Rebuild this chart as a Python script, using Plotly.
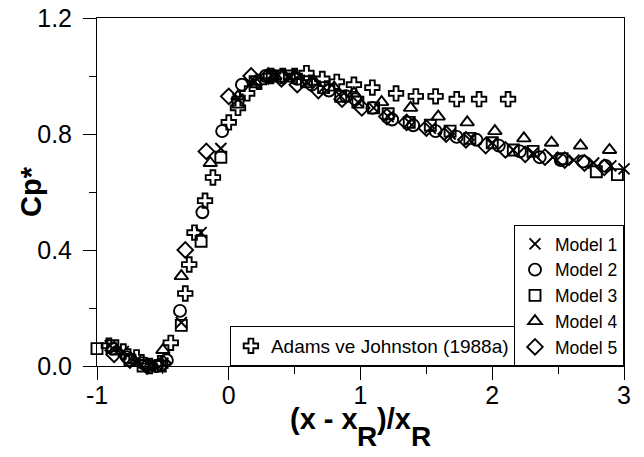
import plotly.graph_objects as go

# ---- data ----
adams_x = [-0.91, -0.80, -0.70, -0.60, -0.52, -0.44, -0.33, -0.30, -0.26, -0.18, -0.12,
           0.00, 0.07, 0.14, 0.23, 0.32, 0.41, 0.50, 0.59, 0.71, 0.82, 0.95, 1.09,
           1.27, 1.42, 1.57, 1.73, 1.90, 2.12]
adams_y = [0.07, 0.05, 0.03, 0.00, 0.01, 0.08, 0.25, 0.35, 0.46, 0.57, 0.65,
           0.84, 0.89, 0.94, 0.98, 1.00, 1.00, 1.00, 1.01, 0.99, 0.98, 0.97, 0.96,
           0.94, 0.93, 0.93, 0.92, 0.92, 0.92]

m1_x = [-0.90, -0.80, -0.70, -0.60, -0.50, -0.36, -0.21, -0.06, 0.07, 0.20, 0.33, 0.46,
        0.59, 0.72, 0.85, 0.98, 1.10, 1.21, 1.37, 1.53, 1.68, 1.83, 2.00, 2.16, 2.31,
        2.46, 2.62, 2.77, 2.90, 3.00]
m1_y = [0.07, 0.05, 0.02, 0.00, 0.01, 0.15, 0.46, 0.75, 0.92, 0.98, 1.00, 1.00,
        0.98, 0.96, 0.93, 0.91, 0.89, 0.86, 0.84, 0.82, 0.80, 0.78, 0.77, 0.745, 0.735,
        0.72, 0.71, 0.70, 0.69, 0.68]

m2_x = [-0.88, -0.77, -0.65, -0.55, -0.47, -0.37, -0.20, -0.05, 0.10, 0.28, 0.40, 0.52,
        0.63, 0.76, 0.89, 0.96, 1.09, 1.24, 1.40, 1.57, 1.73, 1.88, 2.05, 2.21, 2.36,
        2.52, 2.69, 2.86]
m2_y = [0.06, 0.03, 0.01, 0.00, 0.02, 0.19, 0.53, 0.81, 0.97, 1.00, 1.00, 0.99,
        0.97, 0.95, 0.93, 0.92, 0.89, 0.85, 0.83, 0.81, 0.79, 0.78, 0.76, 0.74, 0.72,
        0.71, 0.705, 0.69]

m3_x = [-1.00, -0.88, -0.75, -0.65, -0.52, -0.36, -0.21, -0.06, 0.07, 0.20, 0.33, 0.46,
        0.59, 0.72, 0.85, 0.98, 1.10, 1.21, 1.37, 1.53, 1.68, 1.83, 2.00, 2.16, 2.31,
        2.53, 2.79, 2.95]
m3_y = [0.06, 0.07, 0.02, 0.00, 0.00, 0.14, 0.43, 0.72, 0.91, 0.98, 1.00, 1.00,
        0.98, 0.96, 0.93, 0.91, 0.89, 0.87, 0.84, 0.83, 0.81, 0.785, 0.77, 0.745, 0.74,
        0.715, 0.67, 0.66]

m4_x = [-0.85, -0.72, -0.60, -0.50, -0.36, -0.14, 0.07, 0.20, 0.35, 0.50, 0.65, 0.80,
        0.95, 1.16, 1.38, 1.59, 1.81, 2.02, 2.24, 2.45, 2.67, 2.89]
m4_y = [0.05, 0.02, 0.00, 0.055, 0.31, 0.70, 0.93, 0.98, 1.00, 1.00, 0.98, 0.96,
        0.94, 0.91, 0.89, 0.86, 0.84, 0.81, 0.785, 0.77, 0.76, 0.745]

m5_x = [-0.87, -0.75, -0.62, -0.50, -0.33, -0.17, 0.00, 0.17, 0.30, 0.40, 0.52, 0.68,
        0.86, 1.01, 1.20, 1.35, 1.50, 1.65, 1.80, 1.95, 2.10, 2.25, 2.40, 2.55, 2.70, 2.85]
m5_y = [0.04, 0.02, 0.00, 0.01, 0.40, 0.74, 0.93, 1.00, 1.00, 0.99, 0.97, 0.95,
        0.92, 0.89, 0.86, 0.84, 0.82, 0.80, 0.78, 0.76, 0.745, 0.73, 0.72, 0.71, 0.70, 0.685]

x_ticks = [-1, 0, 1, 2, 3]
y_ticks = [0.0, 0.4, 0.8, 1.2]
y_ticklabels = ["0.0", "0.4", "0.8", "1.2"]

# x-axis title pieces: main text and full-size lowered subscript "R"
x_title_parts = ["(x - x", "R", ")/x", "R"]

FONT = "Liberation Sans"

fig = go.Figure()

def add(xs, ys, name, symbol, legend, size=12):
    fig.add_trace(go.Scatter(
        x=xs, y=ys, mode="markers", name=name, legend=legend,
        cliponaxis=False,
        marker=dict(symbol=symbol, size=size, color="black",
                    line=dict(color="black", width=1.9)),
    ))

add(m1_x, m1_y, "Model 1", "x-thin-open", "legend2", 11)
add(m2_x, m2_y, "Model 2", "circle-open", "legend2", 12)
add(m3_x, m3_y, "Model 3", "square-open", "legend2", 11)
add(m4_x, m4_y, "Model 4", "triangle-up-open", "legend2", 12)
add(m5_x, m5_y, "Model 5", "diamond-open", "legend2", 12)
add(adams_x, adams_y, "Adams ve Johnston (1988a)", "cross-open", "legend", 12)

# x-title layout (pixel offsets from the plot's left edge, bold Arial-metric widths)
MAIN_SIZE, SUB_SIZE = 29, 28
W = {"(": .333, "x": .556, " ": .278, "-": .333, ")": .333, "/": .278, "R": .722}
def width(s, size):
    return sum(W[c] for c in s) * size

annots = []
total = sum(width(p, SUB_SIZE if i % 2 else MAIN_SIZE) for i, p in enumerate(x_title_parts))
plot_w = 527
pos = plot_w / 2 - total / 2
for i, p in enumerate(x_title_parts):
    is_sub = i % 2 == 1
    size = SUB_SIZE if is_sub else MAIN_SIZE
    annots.append(dict(
        text="<b>" + p + "</b>", xref="paper", yref="paper", x=0, y=0,
        xanchor="left", yanchor="middle", xshift=pos - 1, yshift=-70 if is_sub else -53,
        showarrow=False, borderpad=0, font=dict(size=size, family=FONT)))
    pos += width(p, size)

annots.append(dict(text="<b>Cp*</b>", xref="paper", yref="paper", textangle=-90,
                   x=0, y=0.5, xanchor="center", yanchor="middle", xshift=-66,
                   showarrow=False, font=dict(size=29, family=FONT)))

fig.update_layout(
    width=636, height=449,
    margin=dict(l=89, r=20, t=10, b=91, autoexpand=False),
    paper_bgcolor="white", plot_bgcolor="white",
    font=dict(family=FONT, color="black"),
    showlegend=True,
    legend=dict(x=0.793, y=0, xanchor="right", yanchor="bottom",
                bgcolor="white", bordercolor="black", borderwidth=1,
                font=dict(size=19, family=FONT), itemwidth=30),
    legend2=dict(x=1, y=0, xanchor="right", yanchor="bottom",
                 bgcolor="white", bordercolor="black", borderwidth=1,
                 font=dict(size=17.5, family=FONT), itemwidth=30),
    annotations=annots,
)

fig.update_xaxes(
    range=[-1, 3], tickvals=x_ticks, ticktext=[str(v) for v in x_ticks],
    showgrid=False, zeroline=False, automargin=False,
    showline=True, linecolor="black", linewidth=1, mirror=True,
    ticks="outside", ticklen=13, tickwidth=1, tickcolor="black",
    tickfont=dict(size=25, family=FONT), ticklabeloverflow="allow",
    ticklabelstandoff=-6,
    minor=dict(dtick=0.5, ticks="outside", ticklen=7, tickcolor="black", showgrid=False),
)
fig.update_yaxes(
    range=[0, 1.2], tickvals=y_ticks, ticktext=y_ticklabels,
    showgrid=False, zeroline=False, automargin=False,
    showline=True, linecolor="black", linewidth=1, mirror=True,
    ticks="outside", ticklen=13, tickwidth=1, tickcolor="black",
    tickfont=dict(size=25, family=FONT), ticklabeloverflow="allow",
    ticklabelstandoff=6,
    minor=dict(dtick=0.2, ticks="outside", ticklen=7, tickcolor="black", showgrid=False),
)

fig.write_html("out.html")
